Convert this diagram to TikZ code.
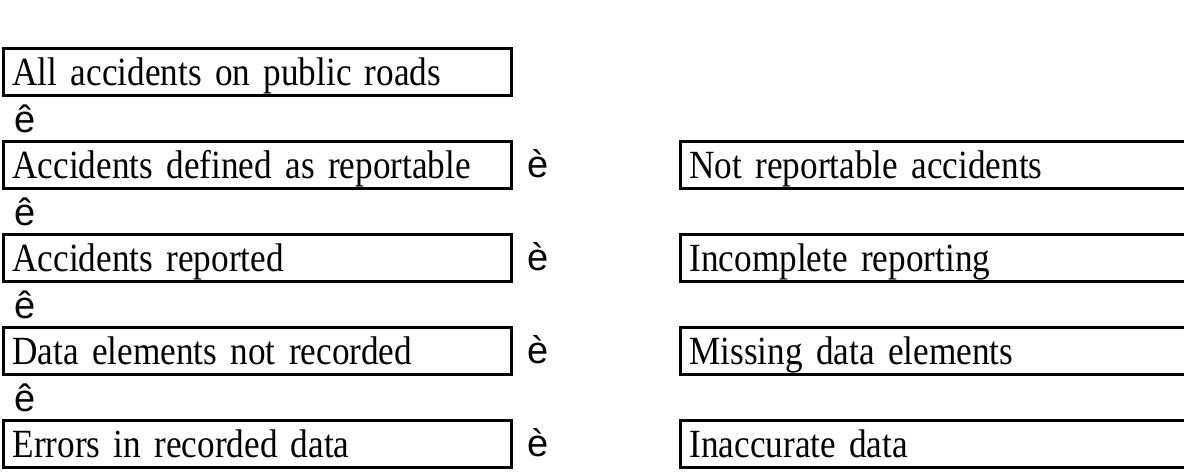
\documentclass[tikz,border=0pt]{standalone}
\usepackage{fontspec}
\setmainfont{Liberation Serif}[FakeStretch=0.88, WordSpace=0.45]
\newfontfamily\arrowfont{Liberation Sans}
\tikzset{
flowbox/.style={draw, line width=1.5pt, anchor=west, minimum height=23.5pt,
    inner xsep=4.5pt, inner ysep=0pt, text height=15pt, text depth=2pt,
    align=left, font=\fontsize{20}{22}\selectfont},
leftbox/.style={flowbox, text width=245pt},
rightbox/.style={flowbox, text width=265pt},
glyph/.style={font=\arrowfont\fontsize{19}{21}\selectfont, inner sep=0pt},
}

\begin{document}
\begin{tikzpicture}[x=0.5pt, y=-0.5pt]
            \useasboundingbox (0,0) rectangle (1184,473);
            \clip (0,0) rectangle (1184,473);
            \node[leftbox] (allroads) at (2,72) {All accidents on public roads};
            \node[leftbox] (definedrep) at (2,165) {Accidents defined as reportable};
            \node[leftbox] (reported) at (2,258) {Accidents reported};
            \node[leftbox] (notrecorded) at (2,351) {Data elements not recorded};
            \node[leftbox] (errors) at (2,444) {Errors in recorded data};
            \node[glyph] (down-1) at (25,119) {ê};
            \node[glyph] (down-2) at (25,212) {ê};
            \node[glyph] (down-3) at (25,305) {ê};
            \node[glyph] (down-4) at (25,398) {ê};
            \node[glyph] (right-1) at (538,164) {è};
            \node[glyph] (right-2) at (538,257) {è};
            \node[glyph] (right-3) at (538,350) {è};
            \node[glyph] (right-4) at (538,443) {è};
            \node[rightbox] (notreportable) at (679,165) {Not reportable accidents};
            \node[rightbox] (incomplete) at (679,258) {Incomplete reporting};
            \node[rightbox] (missing) at (679,351) {Missing data elements};
            \node[rightbox] (inaccurate) at (679,444) {Inaccurate data};
        \end{tikzpicture}
\end{document}
